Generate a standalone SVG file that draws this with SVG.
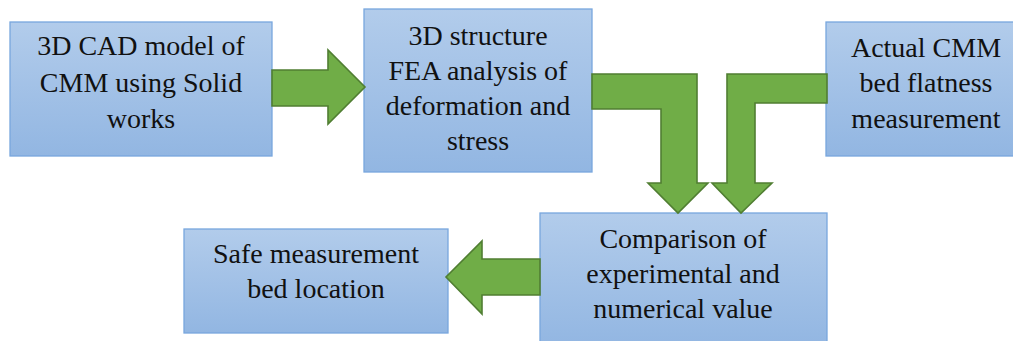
<svg xmlns="http://www.w3.org/2000/svg" width="1013" height="341" viewBox="0 0 1013 341">
  <defs>
    <linearGradient id="boxFill" x1="0" y1="0" x2="0" y2="1">
      <stop offset="0" stop-color="#b2cceb"/>
      <stop offset="1" stop-color="#92b6e2"/>
    </linearGradient>
    <style>
      .box { fill: url(#boxFill); stroke: #78a7de; stroke-width: 1.3; }
      .label { font-size: 28px; fill: #111; text-anchor: middle; }
      .flow { fill: #70ad47; stroke: #507e32; stroke-width: 1.6; stroke-linejoin: miter; }
    </style>
  </defs>
  <rect width="1013" height="341" fill="#ffffff"/>

  <g font-family="Liberation Serif, DejaVu Serif, serif">
  <g id="cad-model">
    <rect class="box" x="10" y="22" width="262" height="134"/>
    <text class="label" x="141" y="55">3D CAD model of</text>
    <text class="label" x="141" y="92">CMM using Solid</text>
    <text class="label" x="141" y="128">works</text>
  </g>

  <g id="fea-analysis">
    <rect class="box" x="364" y="9" width="228" height="163"/>
    <text class="label" x="478" y="45">3D structure</text>
    <text class="label" x="478" y="80">FEA analysis of</text>
    <text class="label" x="478" y="115">deformation and</text>
    <text class="label" x="478" y="150">stress</text>
  </g>

  <g id="flatness-measurement">
    <rect class="box" x="826" y="22" width="200" height="134"/>
    <text class="label" x="926" y="57">Actual CMM</text>
    <text class="label" x="926" y="92">bed flatness</text>
    <text class="label" x="926" y="128">measurement</text>
  </g>

  <g id="comparison">
    <rect class="box" x="540" y="213" width="287" height="134"/>
    <text class="label" x="683" y="248">Comparison of</text>
    <text class="label" x="683" y="283">experimental and</text>
    <text class="label" x="683" y="318">numerical value</text>
  </g>

  <g id="safe-location">
    <rect class="box" x="184" y="229" width="264" height="104"/>
    <text class="label" x="316" y="263">Safe measurement</text>
    <text class="label" x="316" y="298">bed location</text>
  </g>
  </g>

  <g id="connectors">
    <!-- CAD model to FEA -->
    <path class="flow" d="M272,70 H328 V50 L365,87 L328,124 V106 H272 Z"/>
    <!-- FEA down to comparison -->
    <path class="flow" d="M592,74 H697 V183 H708 L678,213 L648,183 H661 V109 H592 Z"/>
    <!-- flatness measurement down to comparison -->
    <path class="flow" d="M727,74 H827 V103 H755 V183 H772 L741,213 L712,183 H727 Z"/>
    <!-- comparison to safe location -->
    <path class="flow" d="M540,259 H482 V241 L446,277 L482,314 V295 H540 Z"/>
  </g>
</svg>
